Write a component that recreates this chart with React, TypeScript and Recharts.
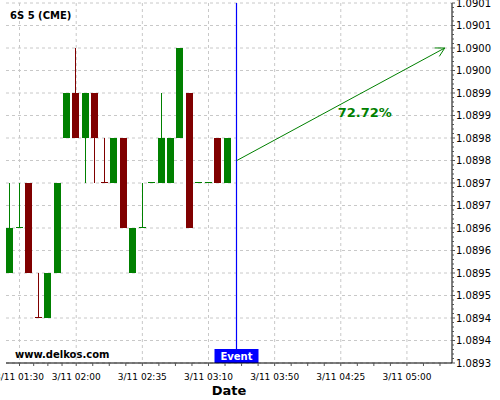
import { ComposedChart, Bar, XAxis, YAxis, CartesianGrid, ReferenceLine } from 'recharts';

const FONT = '"DejaVu Sans", Verdana, sans-serif';
const UP = '#008000';
const DOWN = '#800000';
const EVENT = '#0000ff';

// 5 minute bars, x = slot number on the chart
const slots = [0, 1, 2, 3, 4, 5, 6, 7, 8, 9, 10, 11, 12, 13, 14, 15, 16, 17, 18, 19, 20, 21, 22, 23];
const opens = [
  1.0895, 1.0896, 1.0897, 1.089401, 1.0894, 1.0895, 1.0898, 1.0899, 1.0898, 1.0899, 1.089701, 1.0897,
  1.0898, 1.0895, 1.0896, 1.0897, 1.0897, 1.0897, 1.0898, 1.0899, 1.0897, 1.0897, 1.0898, 1.0897,
];
const highs = [
  1.0897, 1.0897, 1.0897, 1.0895, 1.0895, 1.0897, 1.0899, 1.09, 1.0899, 1.0899, 1.0898, 1.0898,
  1.0898, 1.0896, 1.0897, 1.0897, 1.0899, 1.0898, 1.09, 1.0899, 1.0897, 1.0897, 1.0898, 1.0898,
];
const lows = [
  1.0895, 1.0896, 1.0895, 1.0894, 1.0894, 1.0895, 1.0898, 1.0898, 1.0897, 1.0897, 1.0897, 1.0897,
  1.0896, 1.0895, 1.0896, 1.0897, 1.0897, 1.0897, 1.0898, 1.0896, 1.0897, 1.0897, 1.0897, 1.0897,
];
const closes = [
  1.0896, 1.0896, 1.0895, 1.0894, 1.0895, 1.0897, 1.0899, 1.0898, 1.0899, 1.0898, 1.0897, 1.0898,
  1.0896, 1.0896, 1.0896, 1.0897, 1.0898, 1.0898, 1.09, 1.0896, 1.0897, 1.0897, 1.0897, 1.0898,
];

const eventSlot = 24;
const forecastFrom = { slot: 24, price: 1.08975 };
const forecastTo = { slot: 46, price: 1.09 };
const forecastText = '72.72%';

const xTickSlots = [1, 7, 14, 21, 28, 35, 42];
const xTickLabels = ['3/11 01:30', '3/11 02:00', '3/11 02:35', '3/11 03:10', '3/11 03:50', '3/11 04:25', '3/11 05:00'];
const xDomain = [-0.43, 46.77];

const yTicks = [
  1.0893, 1.08935, 1.0894, 1.08945, 1.0895, 1.08955, 1.0896, 1.08965, 1.0897,
  1.08975, 1.0898, 1.08985, 1.0899, 1.08995, 1.09, 1.09005, 1.0901,
];
const yTickLabels = [
  '1.0893', '1.0894', '1.0894', '1.0895', '1.0895', '1.0896', '1.0896', '1.0897', '1.0897',
  '1.0898', '1.0898', '1.0899', '1.0899', '1.0900', '1.0900', '1.0901', '1.0901',
];

const data = slots.map((s, i) => ({
  slot: s,
  open: opens[i],
  high: highs[i],
  low: lows[i],
  close: closes[i],
}));

// minor ticks: quarters between date ticks, fifths between price ticks
const xMinor: number[] = [];
xTickSlots.forEach((s, i) => {
  const next = xTickSlots[i + 1] ?? s + 7;
  for (let k = 1; k < 4; k++) {
    const v = s + ((next - s) * k) / 4;
    if (v < xDomain[1]) xMinor.push(v);
  }
});
const xAllTicks = [...xTickSlots, ...xMinor].sort((a, b) => a - b);

const yAllTicks: number[] = [];
yTicks.forEach((t, i) => {
  yAllTicks.push(t);
  if (i < yTicks.length - 1) {
    for (let k = 1; k < 5; k++) yAllTicks.push(Number((t + ((yTicks[i + 1] - t) * k) / 5).toFixed(6)));
  }
});

const candleRange = (d: any) => [d.low, d.high > d.low ? d.high : d.high + 0.000001];

function Candle(props: any) {
  const { x, y, width, height, payload } = props;
  if (!payload || height == null) return null;
  const [lo, hi] = candleRange(payload);
  const top = Math.min(y, y + height);
  const k = Math.abs(height) / (hi - lo);
  const py = (p: number) => top + (hi - p) * k;
  const up = payload.close >= payload.open;
  const color = up ? UP : DOWN;
  const bx = Math.round(x);
  const w = Math.round(width);
  const cx = bx + Math.floor(w / 2);
  let bTop = Math.round(py(Math.max(payload.open, payload.close)));
  const bBot = Math.round(py(Math.min(payload.open, payload.close)));
  if (bBot - bTop < 1) {
    bTop = bBot - 1;
  }
  const wTop = Math.round(py(payload.high));
  const wBot = Math.round(py(payload.low));
  return (
    <g>
      {wBot > wTop && <rect x={cx} y={wTop} width={1} height={wBot - wTop} fill={color} />}
      <rect x={bx} y={bTop} width={w} height={bBot - bTop} fill={color} />
    </g>
  );
}

function XTick(props: any) {
  const { x, y, payload } = props;
  const i = xTickSlots.indexOf(payload.value);
  return (
    <g>
      <line x1={x} x2={x} y1={y} y2={y + 3} stroke="#555" strokeWidth={1} />
      {i >= 0 && (
        <text x={x} y={y + 17} textAnchor="middle" fontSize={9} fontFamily={FONT} fill="#000">
          {xTickLabels[i]}
        </text>
      )}
    </g>
  );
}

function YTick(props: any) {
  const { x, y, payload } = props;
  const i = yTicks.findIndex((t) => Math.abs(t - payload.value) < 1e-7);
  return (
    <g>
      <line x1={x} x2={x + (i >= 0 ? 3 : 2)} y1={y} y2={y} stroke="#555" strokeWidth={1} />
      {i >= 0 && (
        <text x={x + 4} y={y + 3.5} textAnchor="start" fontSize={10} fontFamily={FONT} fill="#000">
          {yTickLabels[i]}
        </text>
      )}
    </g>
  );
}

function EventLine(props: any) {
  const { x1, y1, y2 } = props;
  if (x1 == null) return null;
  const x = Math.round(x1) - 0.5;
  return <line x1={x} x2={x} y1={y1} y2={y2} stroke={EVENT} strokeWidth={1.2} />;
}

function EventTag(props: any) {
  const vb = props.viewBox || {};
  const x = Math.round(vb.x ?? 0) - 0.5;
  const bottom = (vb.y ?? 0) + (vb.height ?? 0);
  return (
    <g>
      <rect x={x - 22} y={bottom - 14} width={44} height={14} fill={EVENT} />
      <text x={x} y={bottom - 3.5} textAnchor="middle" fontSize={10} fontWeight="bold" fontFamily={FONT} fill="#fff">
        Event
      </text>
    </g>
  );
}

function ForecastArrow(props: any) {
  const { x1, y1, x2, y2 } = props;
  if (x1 == null) return null;
  const ang = Math.atan2(y2 - y1, x2 - x1);
  const len = 10;
  const spread = 0.5;
  const a1 = ang + Math.PI - spread;
  const a2 = ang + Math.PI + spread;
  const p1 = `${x2 + len * Math.cos(a1)},${y2 + len * Math.sin(a1)}`;
  const p2 = `${x2 + len * Math.cos(a2)},${y2 + len * Math.sin(a2)}`;
  const mx = (x1 + x2) / 2;
  const my = (y1 + y2) / 2;
  return (
    <g>
      <line x1={x1} y1={y1} x2={x2} y2={y2} stroke={UP} strokeWidth={1} />
      <polyline points={`${p1} ${x2},${y2} ${p2}`} fill="none" stroke={UP} strokeWidth={1} />
      <text x={mx + 24} y={my + 13} textAnchor="middle" fontSize={13} fontWeight="bold" fontFamily={FONT} fill={UP}>
        {forecastText}
      </text>
    </g>
  );
}

export default function App() {
  return (
    <div style={{ position: 'absolute', left: 0, top: 0, width: 500, height: 400, background: '#fff' }}>
      <ComposedChart width={500} height={400} data={data} margin={{ top: 3, right: 0, bottom: 0, left: 6 }}>
        <CartesianGrid
          stroke="#c8c8c8"
          strokeDasharray="3 3"
          horizontalValues={yTicks}
          verticalValues={xTickSlots}
        />
        <XAxis
          dataKey="slot"
          type="number"
          domain={xDomain}
          allowDataOverflow
          ticks={xAllTicks}
          interval={0}
          height={37}
          tickSize={0}
          tickMargin={0}
          tickLine={false}
          tick={XTick}
          axisLine={{ stroke: '#000' }}
          label={{
            value: 'Date',
            position: 'insideBottom',
            offset: 5,
            style: { fontFamily: FONT, fontSize: 13, fontWeight: 'bold', fill: '#000' },
          }}
        />
        <YAxis
          orientation="right"
          type="number"
          domain={[1.0893, 1.0901]}
          allowDataOverflow
          ticks={yAllTicks}
          interval={0}
          width={48}
          tickSize={0}
          tickMargin={0}
          tickLine={false}
          tick={YTick}
          axisLine={{ stroke: '#000' }}
        />
        <Bar dataKey={candleRange} barSize={7} shape={Candle} isAnimationActive={false} />
        <ReferenceLine x={eventSlot} stroke={EVENT} shape={EventLine} label={<EventTag />} />
        <ReferenceLine
          segment={[
            { x: forecastFrom.slot, y: forecastFrom.price },
            { x: forecastTo.slot, y: forecastTo.price },
          ]}
          shape={ForecastArrow}
        />
      </ComposedChart>
      <svg width={500} height={400} style={{ position: 'absolute', left: 0, top: 0, pointerEvents: 'none' }}>
        <text x={10} y={19} fontSize={10} fontWeight="bold" fontFamily={FONT} fill="#000">
          6S 5 (CME)
        </text>
        <text x={15} y={357.5} fontSize={10} fontWeight="bold" fontFamily={FONT} fill="#000">
          www.delkos.com
        </text>
      </svg>
    </div>
  );
}
